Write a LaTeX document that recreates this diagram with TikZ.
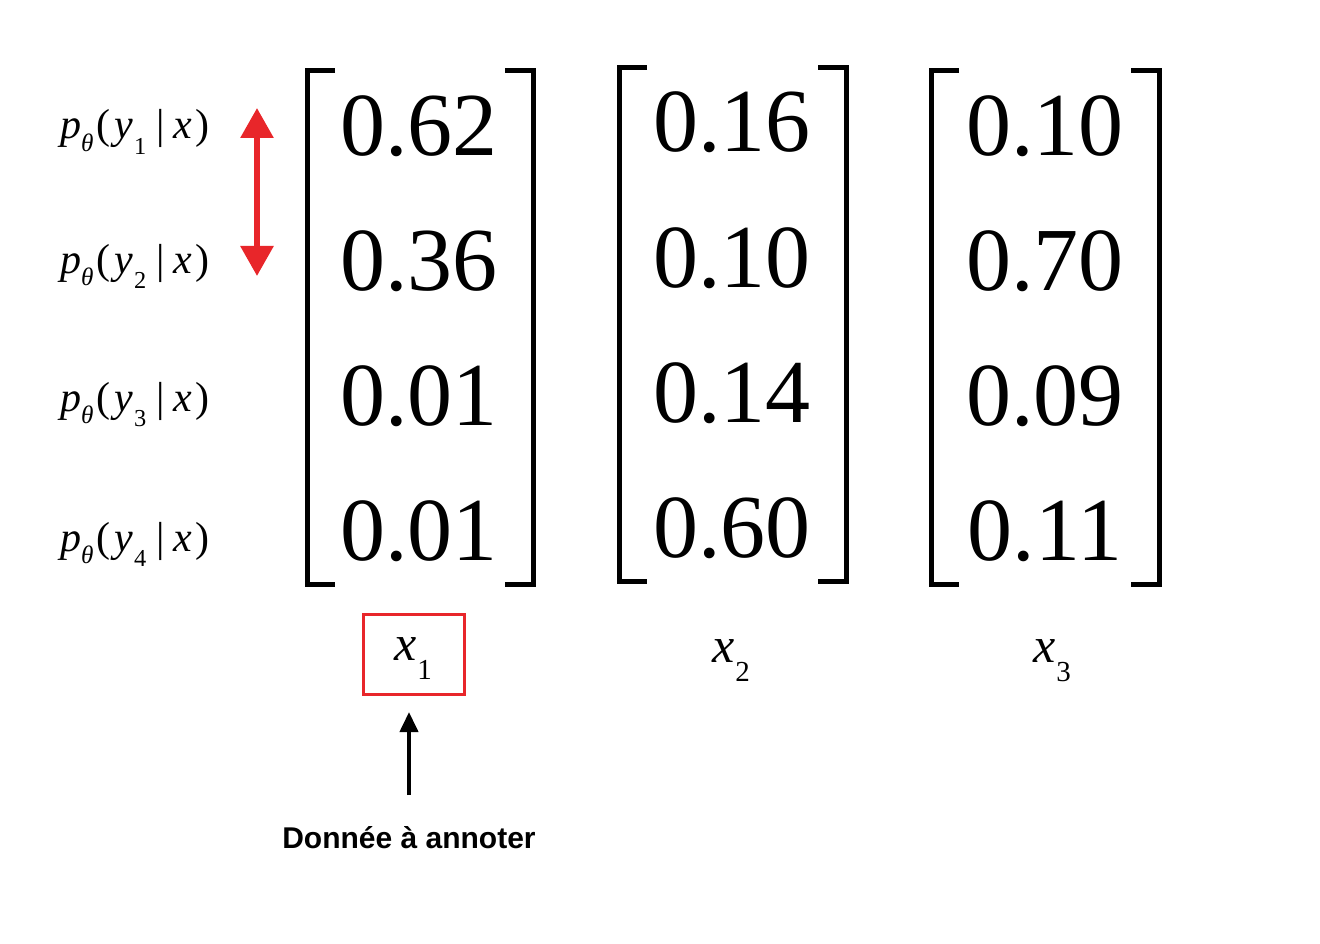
\documentclass[tikz,border=0pt]{standalone}
\usepackage{fontspec}
\usepackage{graphicx}
\setmainfont{Liberation Serif}
\newfontfamily\lsans{Liberation Sans}
\usetikzlibrary{arrows.meta}
\definecolor{redA}{HTML}{E8262A}
\newcommand\subl[1]{\raisebox{-0.36em}{\scalebox{0.58}{#1}}}
\newcommand\subt[1]{\raisebox{-0.3em}{\scalebox{0.6}{#1}}}
\newcommand\plab[1]{\textit{p}\kern0pt\subt{\textit{θ}}\kern3pt(\kern4pt\textit{y}\kern1pt\subl{#1}\kern10pt|\kern9pt\textit{x}\kern3pt)}
\newcommand\xlab[1]{\textit{x}\kern1pt\raisebox{-0.38em}{\scalebox{0.58}{#1}}}
\begin{document}
\begin{tikzpicture}[x=1pt,y=-1pt,
  num/.style={font=\fontsize{90}{90}\selectfont, inner sep=0pt, anchor=center},
  lab/.style={font=\fontsize{42}{42}\selectfont, inner sep=0pt, anchor=base west},
  brk/.style={line width=5pt, miter limit=10, line join=miter},
  xl/.style={font=\fontsize{50}{50}\selectfont, inner sep=0pt, anchor=base west}]
\useasboundingbox (0,0) rectangle (1320,944);
% left labels
\node[lab] (l1) at (60,139) {\plab{1}};
\node[lab] (l2) at (60,273) {\plab{2}};
\node[lab] (l3) at (60,411) {\plab{3}};
\node[lab] (l4) at (60,551) {\plab{4}};
% red double arrow
\coordinate (ra) at (257,108);
\coordinate (rb) at (257,276);
\draw[draw=redA, fill=redA, line width=6pt, {Triangle[width=32pt,length=30pt]}-{Triangle[width=32pt,length=30pt]}] (ra) -- (rb);
% matrix 1
\draw[brk] (335,71) -- (307,71) -- (307,584) -- (335,584);
\draw[brk] (505,71) -- (533,71) -- (533,584) -- (505,584);
\node[num] (a1) at (419,126) {0.62};
\node[num] (a2) at (419,261) {0.36};
\node[num] (a3) at (419,396) {0.01};
\node[num] (a4) at (419,531) {0.01};
% matrix 2
\draw[brk] (647,68) -- (619,68) -- (619,581) -- (647,581);
\draw[brk] (818,68) -- (846,68) -- (846,581) -- (818,581);
\node[num] (b1) at (732,122) {0.16};
\node[num] (b2) at (732,258) {0.10};
\node[num] (b3) at (732,393) {0.14};
\node[num] (b4) at (732,528) {0.60};
% matrix 3
\draw[brk] (959,71) -- (931,71) -- (931,584) -- (959,584);
\draw[brk] (1131,71) -- (1159,71) -- (1159,584) -- (1131,584);
\node[num] (c1) at (1045,126) {0.10};
\node[num] (c2) at (1045,261) {0.70};
\node[num] (c3) at (1045,396) {0.09};
\node[num] (c4) at (1045,531) {0.11};
% x labels
\node[xl] (x1) at (394,660) {\xlab{1}};
\node[xl] (x2) at (712,662) {\xlab{2}};
\node[xl] (x3) at (1033,662) {\xlab{3}};
\draw[draw=redA, line width=3pt] (363,614) rectangle (464,694);
\coordinate (boxb) at (409,712);
% caption
\node[font=\lsans\bfseries\fontsize{30}{30}\selectfont, inner sep=0pt] (cap) at (409,838) {Donnée à annoter};
\draw[line width=4pt, -{Triangle[width=18pt,length=20pt]}] (409,795) -- (boxb);
\end{tikzpicture}
\end{document}
